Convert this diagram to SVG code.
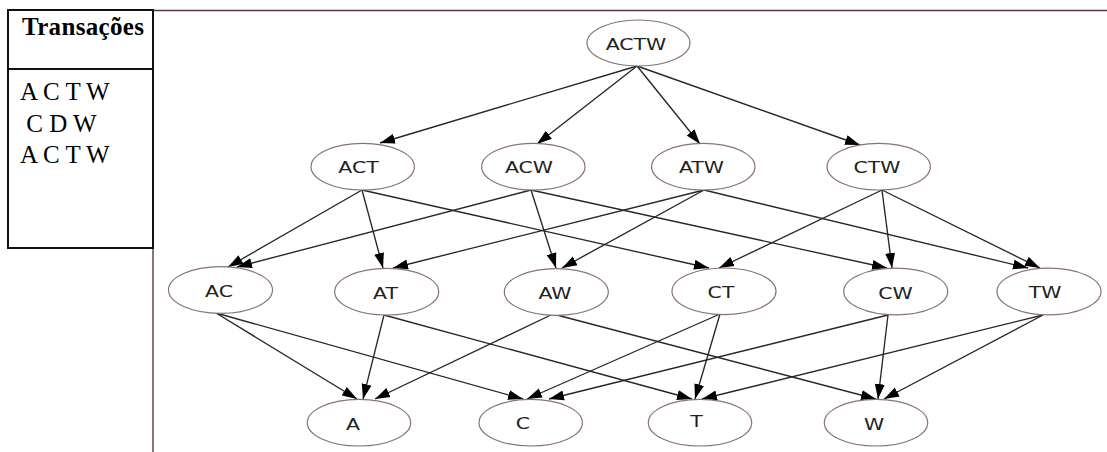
<svg xmlns="http://www.w3.org/2000/svg" width="1107" height="452" viewBox="0 0 1107 452">
  <style>
    .tbl { fill: none; stroke: #111; stroke-width: 2; }
    .frame { fill: none; stroke: #5a3a3a; stroke-width: 1.4; }
    .hdr { font-family: "Liberation Serif", "Times New Roman", serif; font-weight: bold; font-size: 25px; fill: #000; }
    .row { font-family: "Liberation Serif", "Times New Roman", serif; font-size: 25px; fill: #000; }
    .node ellipse { fill: #fff; stroke: #8a7272; stroke-width: 1.2; }
    .node text { font-family: "DejaVu Sans", "Liberation Sans", sans-serif; font-size: 16.5px; fill: #222; text-anchor: middle; }
    .edges line { stroke: #262626; stroke-width: 1.35; marker-end: url(#arrow); }
  </style>
  <defs>
    <marker id="arrow" markerUnits="userSpaceOnUse" markerWidth="16" markerHeight="11" refX="15" refY="5.5" orient="auto">
      <path d="M0,0.5 L15,5.5 L0,10.5 z" fill="#000"/>
    </marker>
  </defs>

  <rect width="1107" height="452" fill="#fff"/>

  <!-- page frame lines -->
  <line class="frame" x1="153" y1="10.5" x2="1107" y2="10.5"/>
  <line class="frame" x1="153" y1="248" x2="153" y2="452"/>

  <!-- transactions table -->
  <g id="table">
    <rect class="tbl" x="8" y="10" width="145" height="238"/>
    <line class="tbl" x1="8" y1="69" x2="153" y2="69"/>
    <text class="hdr" x="22" y="35" textLength="122" lengthAdjust="spacing">Transações</text>
    <text class="row" x="20" y="100">A C T W</text>
    <text class="row" x="20" y="131.5" xml:space="preserve"> C D W</text>
    <text class="row" x="20" y="163">A C T W</text>
  </g>

  <!-- connectors -->
  <g id="edges" class="edges">
    <line x1="637" y1="66" x2="380" y2="143"/>
    <line x1="637" y1="66" x2="537" y2="144"/>
    <line x1="637" y1="66" x2="700" y2="144"/>
    <line x1="637" y1="66" x2="860" y2="145"/>

    <line x1="362" y1="190" x2="228" y2="267"/>
    <line x1="362" y1="190" x2="383" y2="268"/>
    <line x1="362" y1="190" x2="709" y2="268"/>
    <line x1="531" y1="190" x2="237" y2="267"/>
    <line x1="531" y1="190" x2="556" y2="268"/>
    <line x1="531" y1="190" x2="887" y2="268"/>
    <line x1="704" y1="190" x2="393" y2="268"/>
    <line x1="704" y1="190" x2="562" y2="268"/>
    <line x1="704" y1="190" x2="1028" y2="268"/>
    <line x1="882" y1="190" x2="719" y2="268"/>
    <line x1="882" y1="190" x2="892" y2="268"/>
    <line x1="882" y1="190" x2="1040" y2="268"/>

    <line x1="216" y1="313" x2="357" y2="399"/>
    <line x1="216" y1="313" x2="523" y2="399"/>
    <line x1="384" y1="315" x2="363" y2="399"/>
    <line x1="384" y1="315" x2="692" y2="399"/>
    <line x1="553" y1="314" x2="375" y2="399"/>
    <line x1="553" y1="314" x2="876" y2="399"/>
    <line x1="720" y1="314" x2="527" y2="399"/>
    <line x1="720" y1="314" x2="695" y2="399"/>
    <line x1="888" y1="315" x2="549" y2="399"/>
    <line x1="888" y1="315" x2="878" y2="399"/>
    <line x1="1043" y1="315" x2="702" y2="399"/>
    <line x1="1043" y1="315" x2="884" y2="399"/>
  </g>

  <!-- itemset lattice nodes -->
  <g id="n-ACTW" class="node"><ellipse cx="638.5" cy="43" rx="51.5" ry="23"/><text transform="translate(636 49.5) scale(1.24 1)">ACTW</text></g>

  <g id="n-ACT" class="node"><ellipse cx="362.7" cy="166.7" rx="51.7" ry="23.3"/><text transform="translate(358.5 172.5) scale(1.24 1)">ACT</text></g>
  <g id="n-ACW" class="node"><ellipse cx="533.3" cy="166.7" rx="51.7" ry="23.3"/><text transform="translate(529 172.5) scale(1.24 1)">ACW</text></g>
  <g id="n-ATW" class="node"><ellipse cx="703.3" cy="166.7" rx="51.7" ry="23.3"/><text transform="translate(701.5 172.5) scale(1.24 1)">ATW</text></g>
  <g id="n-CTW" class="node"><ellipse cx="878.7" cy="166.7" rx="51.7" ry="23.3"/><text transform="translate(877 172.5) scale(1.24 1)">CTW</text></g>

  <g id="n-AC" class="node"><ellipse cx="220.5" cy="290" rx="52" ry="23.3"/><text transform="translate(219 296.5) scale(1.24 1)">AC</text></g>
  <g id="n-AT" class="node"><ellipse cx="386.7" cy="291.7" rx="52" ry="23.3"/><text transform="translate(385.5 298.5) scale(1.24 1)">AT</text></g>
  <g id="n-AW" class="node"><ellipse cx="556.3" cy="292" rx="52" ry="23.3"/><text transform="translate(555 299) scale(1.24 1)">AW</text></g>
  <g id="n-CT" class="node"><ellipse cx="724" cy="291.3" rx="52" ry="23.3"/><text transform="translate(721 298) scale(1.24 1)">CT</text></g>
  <g id="n-CW" class="node"><ellipse cx="895.7" cy="291.5" rx="52" ry="23.3"/><text transform="translate(895.5 298.5) scale(1.24 1)">CW</text></g>
  <g id="n-TW" class="node"><ellipse cx="1049" cy="291.5" rx="52" ry="23.3"/><text transform="translate(1045 298) scale(1.24 1)">TW</text></g>

  <g id="n-A" class="node"><ellipse cx="359" cy="422.7" rx="51.7" ry="23.3"/><text transform="translate(353 430) scale(1.24 1)">A</text></g>
  <g id="n-C" class="node"><ellipse cx="530.7" cy="422.7" rx="51.7" ry="23.3"/><text transform="translate(523 428.5) scale(1.24 1)">C</text></g>
  <g id="n-T" class="node"><ellipse cx="700" cy="422.7" rx="51.7" ry="23.3"/><text transform="translate(696.5 426.7) scale(1.24 1)">T</text></g>
  <g id="n-W" class="node"><ellipse cx="876" cy="422.7" rx="51.7" ry="23.3"/><text transform="translate(874 430) scale(1.24 1)">W</text></g>
</svg>
